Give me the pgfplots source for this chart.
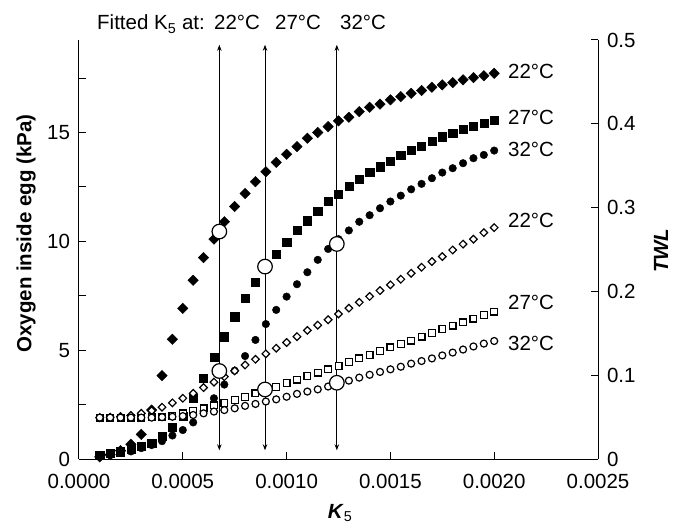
\documentclass[border=0pt]{standalone}
\usepackage{fontspec}
\setmainfont{Liberation Sans}
\usepackage{pgfplots}
\usepackage{pgfplotstable}
\pgfplotsset{compat=1.18}
\usetikzlibrary{arrows.meta}

\pgfplotstableread{
x o22 o27 o32 t22 t27 t32
0.0001 0.1 0.18 0.1 0.0494 0.0494 0.0494
0.00015 0.2 0.26 0.18 0.0499 0.0494 0.0494
0.0002 0.38 0.34 0.28 0.0506 0.0494 0.0494
0.00025 0.68 0.45 0.35 0.0519 0.0494 0.0494
0.0003 1.13 0.57 0.5 0.0545 0.0494 0.0494
0.00035 2.25 0.74 0.64 0.0577 0.0499 0.0494
0.0004 3.83 1.06 0.82 0.0618 0.0506 0.0499
0.00045 5.5 1.47 1.08 0.0670 0.0519 0.0504
0.0005 6.92 1.95 1.33 0.0725 0.0545 0.0512
0.00055 8.21 2.79 1.68 0.0784 0.0577 0.0525
0.0006 9.25 3.71 2.2 0.0852 0.0605 0.0545
0.00065 10.1 4.66 2.79 0.0917 0.0639 0.0566
0.0007 10.9 5.62 3.42 0.0982 0.0670 0.0584
0.00075 11.6 6.54 4.06 0.1052 0.0706 0.0605
0.0008 12.2 7.38 4.73 0.1122 0.0743 0.0634
0.00085 12.74 8.12 5.47 0.1190 0.0784 0.0657
0.0009 13.2 8.8 6.2 0.1255 0.0823 0.0686
0.00095 13.63 9.41 6.85 0.1322 0.0862 0.0712
0.001 14.0 9.96 7.46 0.1390 0.0904 0.0743
0.00105 14.35 10.52 8.03 0.1460 0.0948 0.0777
0.0011 14.74 10.95 8.58 0.1535 0.0990 0.0805
0.00115 15.0 11.37 9.15 0.1597 0.1031 0.0831
0.0012 15.27 11.83 9.65 0.1662 0.1070 0.0865
0.00125 15.53 12.18 10.1 0.1730 0.1112 0.0901
0.0013 15.7 12.55 10.5 0.1800 0.1156 0.0935
0.00135 15.96 12.87 10.9 0.1870 0.1200 0.0971
0.0014 16.16 13.16 11.2 0.1940 0.1244 0.1005
0.00145 16.3 13.43 11.52 0.2010 0.1288 0.1039
0.0015 16.5 13.7 11.83 0.2078 0.1332 0.1070
0.00155 16.65 13.94 12.1 0.2145 0.1371 0.1101
0.0016 16.8 14.17 12.39 0.2216 0.1413 0.1138
0.00165 16.93 14.38 12.64 0.2288 0.1460 0.1169
0.0017 17.08 14.61 12.9 0.2356 0.1501 0.1200
0.00175 17.19 14.81 13.16 0.2416 0.1548 0.1236
0.0018 17.29 14.97 13.36 0.2494 0.1592 0.1270
0.00185 17.42 15.15 13.59 0.2564 0.1631 0.1306
0.0019 17.52 15.3 13.82 0.2623 0.1675 0.1343
0.00195 17.61 15.43 13.97 0.2701 0.1719 0.1377
0.002 17.72 15.58 14.17 0.2761 0.1758 0.1408
}\datatable

\begin{document}
\fontsize{20.5}{24}\selectfont
\begin{tikzpicture}
\begin{axis}[
  name=main,
  scale only axis, width=519pt, height=419pt,
  xmin=0, xmax=0.0025, ymin=0, ymax=19.25,
  axis x line*=bottom, axis y line*=left,
  axis line style={line width=1pt, black},
  tick align=inside, major tick length=7pt, minor tick length=7pt,
  tick style={line width=1pt, black},
  xtick={0,0.0005,0.001,0.0015,0.002,0.0025},
  scaled x ticks=false,
  xticklabel style={/pgf/number format/fixed, /pgf/number format/fixed zerofill, /pgf/number format/precision=4, /pgf/number format/assume math mode=true, yshift=-8pt},
  ytick={0,5,10,15}, minor ytick={2.5,7.5,12.5,17.5},
  yticklabel style={/pgf/number format/assume math mode=true, xshift=-2pt},
  xlabel={\textbf{\textit{K}}\textsubscript{5}},
  xlabel style={at={(rel axis cs:0.503,0)}, anchor=center, yshift=-54pt},
  ylabel={\textbf{Oxygen inside egg (kPa)}},
  ylabel style={at={(rel axis cs:0,0.538)}, anchor=center, yshift=53pt},
  clip=false,
]
\addplot[black, line width=0.9pt, {Stealth[length=6pt,width=4.5pt]}-{Stealth[length=6pt,width=4.5pt]}] coordinates {(0.000676,0.4) (0.000676,19.03)};
\addplot[black, line width=0.9pt, {Stealth[length=6pt,width=4.5pt]}-{Stealth[length=6pt,width=4.5pt]}] coordinates {(0.000896,0.4) (0.000896,19.03)};
\addplot[black, line width=0.9pt, {Stealth[length=6pt,width=4.5pt]}-{Stealth[length=6pt,width=4.5pt]}] coordinates {(0.001242,0.4) (0.001242,19.03)};
\addplot[only marks, mark=square*, mark size=3.7pt, mark options={rotate=45, fill=black, draw=black}] table[x=x,y=o22] {\datatable};
\addplot[only marks, mark=square*, mark size=4.1pt, mark options={fill=black, draw=black}] table[x=x,y=o27] {\datatable};
\addplot[only marks, mark=*, mark size=3.8pt, mark options={fill=black, draw=black}] table[x=x,y=o32] {\datatable};
\addplot[only marks, mark=*, mark size=7.3pt, mark options={fill=white, draw=black, line width=1.2pt}] coordinates {(0.000676,10.45) (0.000896,8.84) (0.001242,9.88)};
\node[anchor=base west, inner sep=0] at (axis cs:0.0000867,19.71) {Fitted K\textsubscript{5} at:};
\node[anchor=base west, inner sep=0] at (axis cs:0.00065,19.71) {22°C};
\node[anchor=base west, inner sep=0] at (axis cs:0.000944,19.71) {27°C};
\node[anchor=base west, inner sep=0] at (axis cs:0.001257,19.71) {32°C};
\node[anchor=west, inner sep=0] at (axis cs:0.002066,17.8) {22°C};
\node[anchor=west, inner sep=0] at (axis cs:0.002066,15.7) {27°C};
\node[anchor=west, inner sep=0] at (axis cs:0.002066,14.23) {32°C};
\node[anchor=west, inner sep=0] at (axis cs:0.002066,10.95) {22°C};
\node[anchor=west, inner sep=0] at (axis cs:0.002066,7.18) {27°C};
\node[anchor=west, inner sep=0] at (axis cs:0.002066,5.32) {32°C};
\end{axis}
\begin{axis}[
  scale only axis, width=519pt, height=419pt,
  xmin=0, xmax=0.0025, ymin=0, ymax=0.5,
  axis x line=none, axis y line*=right,
  axis line style={line width=1pt, black},
  tick align=inside, major tick length=7pt,
  tick style={line width=1pt, black},
  ytick={0,0.1,0.2,0.3,0.4,0.5},
  yticklabel style={/pgf/number format/fixed, /pgf/number format/precision=1, /pgf/number format/assume math mode=true, xshift=2pt},
  ylabel={\textbf{\textit{TWL}}},
  ylabel style={at={(rel axis cs:1,0.497)}, anchor=center, yshift=-63pt},
  clip=false,
]
\addplot[only marks, mark=square*, mark size=2.7pt, mark options={rotate=45, fill=white, draw=black, line width=1.2pt}] table[x=x,y=t22] {\datatable};
\addplot[only marks, mark=square*, mark size=3.4pt, mark options={fill=white, draw=black, line width=1.2pt}] table[x=x,y=t27] {\datatable};
\addplot[only marks, mark=*, mark size=3.5pt, mark options={fill=white, draw=black, line width=1.2pt}] table[x=x,y=t32] {\datatable};
\addplot[only marks, mark=*, mark size=7.3pt, mark options={fill=white, draw=black, line width=1.2pt}] coordinates {(0.000676,0.105) (0.000896,0.083) (0.001242,0.091)};
\end{axis}
\pgfresetboundingbox
\path[use as bounding box] ([xshift=-79pt,yshift=-68pt]main.south west) rectangle ([xshift=81pt,yshift=40pt]main.north east);
\end{tikzpicture}
\end{document}
